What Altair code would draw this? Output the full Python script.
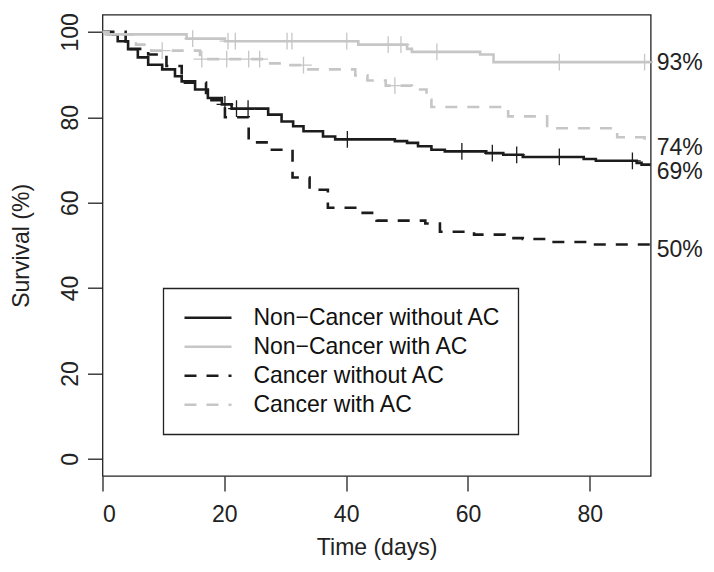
import altair as alt
import pandas as pd

groups = ["Non\u2212Cancer without AC", "Non\u2212Cancer with AC",
          "Cancer without AC", "Cancer with AC"]
line_colors = ["#1c1c1c", "#c6c6c6", "#1c1c1c", "#c6c6c6"]
end_labels = ["69%", "93%", "50%", "74%"]

# Step curves (time in days, survival %)
nc_noac_t = [0, 1.0, 2.5, 4.2, 5.8, 7.5, 9.8, 11.9, 13.0, 15.2, 17.3, 19.6, 21.2, 27.2,
             29.4, 31.3, 33.0, 36.2, 38.2, 48.0, 50.0, 51.8, 54.0, 56.2, 63.0, 65.8,
             69.0, 79.0, 81.0, 87.7, 88.5, 90]
nc_noac_s = [100, 99.4, 97.8, 95.9, 94.0, 92.3, 91.2, 89.6, 88.4, 86.5, 84.5, 83.0, 82.0,
             80.6, 79.0, 77.9, 76.7, 75.5, 74.8, 74.4, 74.0, 73.2, 72.4, 72.0, 71.6, 71.2,
             70.7, 70.2, 69.8, 69.3, 68.9, 68.9]

nc_ac_t = [0, 0.5, 13.8, 20.1, 42.0, 50.0, 50.8, 62.0, 64.2, 90]
nc_ac_s = [100, 99.4, 98.4, 97.8, 97.0, 96.0, 95.3, 94.7, 92.9, 92.9]

c_noac_t = [0, 3.8, 7.5, 10.5, 13.0, 17.0, 20.1, 24.0, 27.5, 31.2, 34.0, 37.0, 42.0,
            45.0, 53.0, 55.4, 61.0, 66.0, 69.0, 73.0, 80.0, 90]
c_noac_s = [100, 96.0, 94.7, 92.0, 88.1, 84.0, 80.0, 74.1, 72.4, 65.9, 63.0, 58.8, 57.6,
            55.8, 55.1, 53.2, 52.5, 51.7, 51.5, 50.8, 50.2, 50.2]

c_ac_t = [0, 1.0, 5.5, 8.0, 16.0, 26.8, 29.5, 33.8, 41.5, 43.5, 46.5, 50.8, 53.2, 54.0,
          66.6, 73.0, 84.5, 89.0, 90]
c_ac_s = [100, 99.4, 97.0, 95.6, 93.6, 92.6, 92.2, 91.2, 89.8, 88.6, 87.4, 86.5, 84.1,
          82.4, 80.2, 77.4, 75.3, 74.0, 74.0]

# Censoring times
nc_noac_cens = [20.1, 22.0, 23.9, 40.2, 59.0, 64.0, 68.0, 75.0, 87.0]
nc_ac_cens = [14.8, 20.6, 21.8, 30.3, 31.1, 40.1, 46.9, 49.0, 54.9, 75.0, 89.0]
c_noac_cens = []
c_ac_cens = [9.8, 16.3, 20.4, 24.0, 25.8, 33.0, 48.0]

curves = [(nc_noac_t, nc_noac_s, nc_noac_cens), (nc_ac_t, nc_ac_s, nc_ac_cens),
          (c_noac_t, c_noac_s, c_noac_cens), (c_ac_t, c_ac_s, c_ac_cens)]


def step_value(ts, ss, t):
    v = ss[0]
    for ti, si in zip(ts, ss):
        if ti <= t:
            v = si
    return v


line_rows, cens_rows, lab_rows = [], [], []
for g, col, lab, (ts, ss, cs) in zip(groups, line_colors, end_labels, curves):
    for t, s in zip(ts, ss):
        line_rows.append({"time": t, "surv": s, "group": g})
    for c in cs:
        cens_rows.append({"time": c, "surv": step_value(ts, ss, c), "group": g, "col": col})
    lab_rows.append({"time": ts[-1], "surv": ss[-1], "label": lab})

lines_df = pd.DataFrame(line_rows)
cens_df = pd.DataFrame(cens_rows)
lab_df = pd.DataFrame(lab_rows)

FONT = "Liberation Sans"
W, H = 548.2, 461.3

xscale = alt.Scale(domain=[0, 90], nice=False, zero=False)
yscale = alt.Scale(domain=[-4, 104], nice=False, zero=False)

xaxis = alt.Axis(values=[0, 20, 40, 60, 80], title="Time (days)", grid=False, domain=False,
                 tickSize=15, tickWidth=1.3, tickColor="#222", labelFontSize=23,
                 labelBaseline="alphabetic", labelPadding=30.5, labelColor="#222",
                 titleFontSize=23, titleFontWeight="normal", titleColor="#222",
                 titleBaseline="alphabetic", titleX=W / 2, titleY=78.5, titleAlign="center")
yaxis = alt.Axis(values=[0, 20, 40, 60, 80, 100], title="Survival (%)", grid=False,
                 domain=False, tickSize=15, tickWidth=1.3, tickColor="#222",
                 labelFontSize=23, labelAngle=270, labelAlign="center",
                 labelBaseline="alphabetic", labelPadding=10, labelColor="#222",
                 titleFontSize=23, titleFontWeight="normal", titleColor="#222",
                 titleAngle=270, titleBaseline="alphabetic", titleAlign="center",
                 titleX=-73.5, titleY=H / 2)

legend = alt.Legend(orient="none", legendX=60.8, legendY=273.6, title=None,
                    symbolType="stroke", symbolSize=2209, symbolStrokeWidth=2.6,
                    symbolOffset=2.7, clipHeight=25,
                    labelFontSize=23, labelFont=FONT, labelColor="#111", labelLimit=500,
                    labelOffset=20.4, padding=17, rowPadding=4,
                    strokeColor="#222")

lines = alt.Chart(lines_df).mark_line(interpolate="step-after", strokeWidth=2.6).encode(
    x=alt.X("time:Q", scale=xscale, axis=xaxis),
    y=alt.Y("surv:Q", scale=yscale, axis=yaxis),
    color=alt.Color("group:N", scale=alt.Scale(domain=groups, range=line_colors),
                    legend=legend),
    strokeDash=alt.StrokeDash("group:N",
                              scale=alt.Scale(domain=groups,
                                              range=[[1, 0], [1, 0], [12, 10], [12, 10]]),
                              legend=legend),
)

cens = alt.Chart(cens_df).mark_point(shape="M0,-1L0,1M-1,0L1,0", filled=False,
                                     size=279, strokeWidth=1.3, opacity=1).encode(
    x=alt.X("time:Q", scale=xscale),
    y=alt.Y("surv:Q", scale=yscale),
    color=alt.Color("col:N", scale=None),
)

base_lab = alt.Chart(lab_df)
label_dy = {"93%": 1, "74%": 5, "69%": 7, "50%": 5.5}
label_layers = []
for lab, dy in label_dy.items():
    label_layers.append(
        base_lab.transform_filter(alt.datum.label == lab).mark_text(
            align="left", baseline="middle", dx=6, dy=dy, fontSize=23, font=FONT,
            color="#222").encode(
            x=alt.X("time:Q", scale=xscale),
            y=alt.Y("surv:Q", scale=yscale),
            text="label:N")
    )

chart = alt.layer(lines, cens, *label_layers).properties(
    width=W, height=H,
    autosize=alt.AutoSizeParams(type="none"),
    padding={"left": 94.5, "top": 6.7, "right": 55, "bottom": 90},
).configure(font=FONT).configure_view(
    stroke="#222", strokeWidth=1.3
).configure_legend(strokeWidth=1.3)

chart.save("out.html", embed_options={"renderer": "svg", "actions": False})
